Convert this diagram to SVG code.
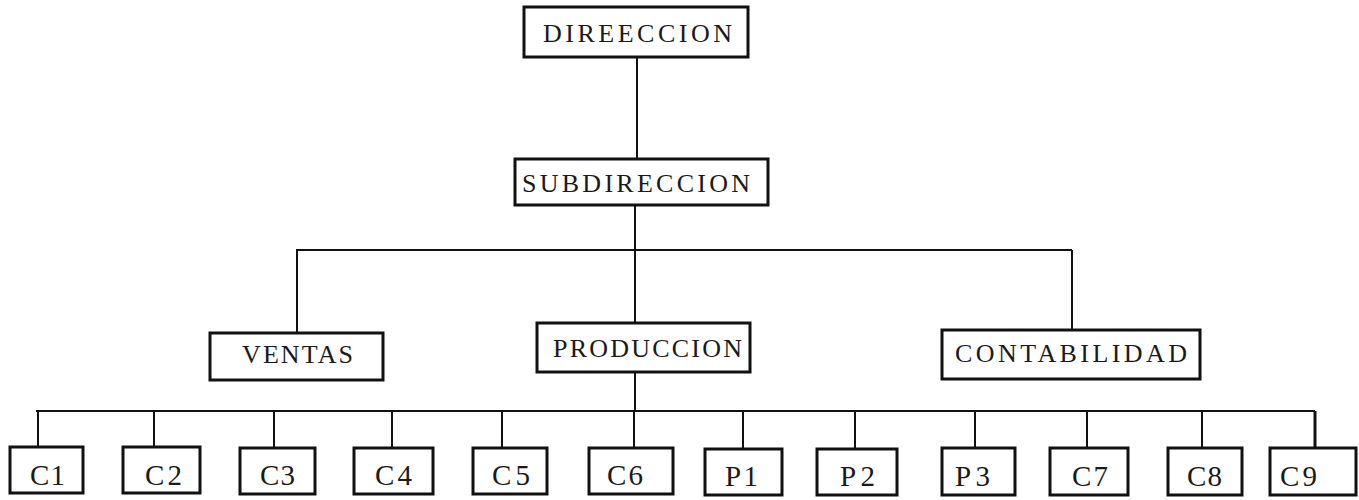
<svg xmlns="http://www.w3.org/2000/svg" width="1359" height="500" viewBox="0 0 1359 500">
  <style>
    .box { fill: #ffffff; stroke: #111111; stroke-width: 3; }
    .lbl { font-family: "Liberation Serif", "DejaVu Serif", serif; fill: #1a1a1a; }
    .big { font-size: 26px; }
    .small { font-size: 29px; }
    .wire { fill: none; stroke: #111111; stroke-width: 2; }
  </style>
  <rect width="1359" height="500" fill="#ffffff"/>

  <!-- connectors -->
  <g id="connectors" class="wire">
    <path d="M637 57 V159"/>
    <path d="M635 205 V323"/>
    <path d="M296 250 H1072"/>
    <path d="M297 250 V333"/>
    <path d="M1072 250 V330"/>
    <path d="M635 372 V411"/>
    <path d="M36 411 H1315"/>
    <path d="M38 411 V447"/>
    <path d="M154 411 V447"/>
    <path d="M274 411 V448"/>
    <path d="M392 411 V448"/>
    <path d="M502 411 V448"/>
    <path d="M634 411 V448"/>
    <path d="M743 411 V448"/>
    <path d="M855 411 V448"/>
    <path d="M975 411 V448"/>
    <path d="M1087 411 V448"/>
    <path d="M1202 411 V448"/>
    <path d="M1315 411 V448" stroke-width="3"/>
  </g>

  <!-- top levels -->
  <g id="direccion">
    <rect class="box" x="524" y="7" width="224" height="50"/>
    <text class="lbl big" x="543" y="42" textLength="189" lengthAdjust="spacing">DIREECCION</text>
  </g>
  <g id="subdireccion">
    <rect class="box" x="515" y="159" width="253" height="46"/>
    <text class="lbl big" x="522" y="192" textLength="228" lengthAdjust="spacing">SUBDIRECCION</text>
  </g>

  <!-- departments -->
  <g id="ventas">
    <rect class="box" x="210" y="333" width="173" height="47"/>
    <text class="lbl big" x="242" y="363" textLength="111" lengthAdjust="spacing">VENTAS</text>
  </g>
  <g id="produccion">
    <rect class="box" x="537" y="323" width="213" height="49"/>
    <text class="lbl big" x="553" y="357" textLength="189" lengthAdjust="spacing">PRODUCCION</text>
  </g>
  <g id="contabilidad">
    <rect class="box" x="942" y="330" width="258" height="49"/>
    <text class="lbl big" x="955" y="362" textLength="232" lengthAdjust="spacing">CONTABILIDAD</text>
  </g>

  <!-- production units -->
  <g id="c1"><rect class="box" x="10" y="447" width="73" height="46"/><text class="lbl small" x="30" y="485" textLength="35" lengthAdjust="spacing">C1</text></g>
  <g id="c2"><rect class="box" x="123" y="447" width="77" height="46"/><text class="lbl small" x="145" y="485" textLength="37" lengthAdjust="spacing">C2</text></g>
  <g id="c3"><rect class="box" x="240" y="448" width="75" height="46"/><text class="lbl small" x="260" y="485" textLength="35" lengthAdjust="spacing">C3</text></g>
  <g id="c4"><rect class="box" x="354" y="448" width="79" height="46"/><text class="lbl small" x="375" y="485" textLength="37" lengthAdjust="spacing">C4</text></g>
  <g id="c5"><rect class="box" x="473" y="448" width="74" height="46"/><text class="lbl small" x="492" y="485" textLength="38" lengthAdjust="spacing">C5</text></g>
  <g id="c6"><rect class="box" x="589" y="448" width="84" height="46"/><text class="lbl small" x="607" y="485" textLength="36" lengthAdjust="spacing">C6</text></g>
  <g id="p1"><rect class="box" x="705" y="449" width="77" height="46"/><text class="lbl small" x="725" y="486" textLength="33" lengthAdjust="spacing">P1</text></g>
  <g id="p2"><rect class="box" x="817" y="449" width="80" height="46"/><text class="lbl small" x="840" y="486" textLength="35" lengthAdjust="spacing">P2</text></g>
  <g id="p3"><rect class="box" x="942" y="448" width="73" height="47"/><text class="lbl small" x="955" y="486" textLength="35" lengthAdjust="spacing">P3</text></g>
  <g id="c7"><rect class="box" x="1050" y="448" width="78" height="47"/><text class="lbl small" x="1072" y="486" textLength="36" lengthAdjust="spacing">C7</text></g>
  <g id="c8"><rect class="box" x="1168" y="448" width="74" height="47"/><text class="lbl small" x="1187" y="486" textLength="35" lengthAdjust="spacing">C8</text></g>
  <g id="c9"><rect class="box" x="1270" y="448" width="86" height="47"/><text class="lbl small" x="1280" y="486" textLength="37" lengthAdjust="spacing">C9</text></g>
</svg>
